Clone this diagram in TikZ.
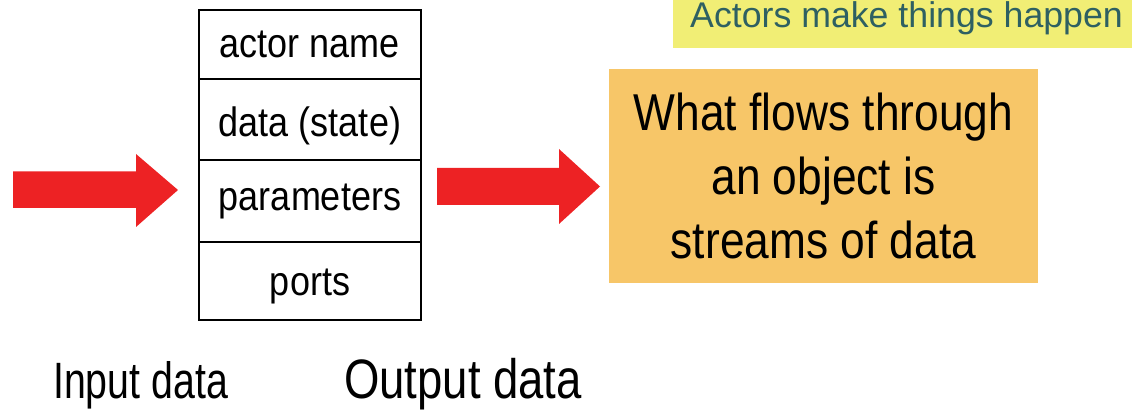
\documentclass[tikz,border=0pt]{standalone}
\usepackage{fontspec}
\setmainfont{Liberation Sans}
\definecolor{arrowred}{RGB}{237,34,36}
\definecolor{noteorange}{RGB}{247,198,104}
\definecolor{noteyellow}{RGB}{241,238,117}
\definecolor{noteteal}{RGB}{46,96,98}
\tikzset{
  cell/.style={draw=black, line width=2pt, minimum width=222pt, inner sep=0pt},
  celltext/.style={inner sep=0pt, anchor=base, yscale=1.14,
    font=\fontsize{36}{44}\selectfont},
  label/.style={inner sep=0pt, anchor=base west},
  blockarrow/.style={fill=arrowred, draw=none}
}
\begin{document}
\begin{tikzpicture}[x=1pt, y=-1pt]
\useasboundingbox (0,0) rectangle (1132,411);

% actor object: four stacked compartments
\node[cell, minimum height=69pt] (name)   at (310,44.5) {};
\node[cell, minimum height=81pt] (state)  at (310,119.5) {};
\node[cell, minimum height=82pt] (params) at (310,201) {};
\node[cell, minimum height=78pt] (ports)  at (310,281) {};
\node[celltext] (nametext)   at ([yshift=-13pt]name.center)     {actor name};
\node[celltext] (statetext)  at ([yshift=-17.5pt]state.center)  {data (state)};
\node[celltext] (paramstext) at ([yshift=-10pt]params.center)   {parameters};
\node[celltext] (portstext)  at ([yshift=-15pt]ports.center)    {ports};

% block arrows: data in and data out
\coordinate (intip)  at (178,190);
\coordinate (outtip) at (600,186.5);
\fill[blockarrow] (13,171.5) -- (136,171.5) -- (136,154) -- (intip)
  -- (136,227) -- (136,208) -- (13,208) -- cycle;
\fill[blockarrow] (437,168) -- (559,168) -- (559,149) -- (outtip)
  -- (559,224) -- (559,205) -- (437,205) -- cycle;

% orange note
\node[fill=noteorange, minimum width=429pt, minimum height=183pt, inner sep=0pt,
  yscale=1.17, align=center, font=\fontsize{44.3}{54.7}\selectfont]
  (flows) at (823.5,176) {What flows through\\an object is\\streams of data};

% yellow note at the top right
\fill[noteyellow] (673,0) rectangle (1132,48);
\node[label, text=noteteal, font=\fontsize{35.7}{42}\selectfont]
  (actors) at (690,28) {Actors make things happen};

% captions under the arrows
\node[label, yscale=1.3, font=\fontsize{39.3}{46}\selectfont]
  (inlabel) at (53,399) {Input data};
\node[label, yscale=1.22, font=\fontsize{45.5}{54}\selectfont]
  (outlabel) at (344,399) {Output data};
\end{tikzpicture}
\end{document}
